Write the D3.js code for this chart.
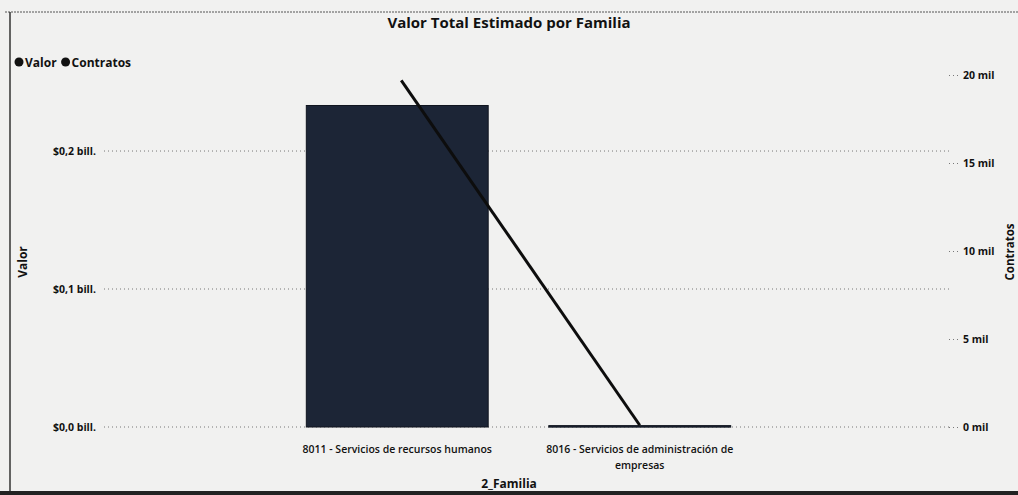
<!DOCTYPE html>
<html><head><meta charset="utf-8">
<script src="https://cdn.jsdelivr.net/npm/d3@7"></script>
<style>
html,body{margin:0;padding:0;background:#f1f1f0;}
svg{display:block;font-family:"Open Sans","DejaVu Sans",sans-serif;}
</style></head>
<body>
<svg id="c" width="1018" height="495"></svg>
<script>
const categories = ["8011 - Servicios de recursos humanos", "8016 - Servicios de administración de empresas"];
const valorBill = [0.233, 0.001];
const contratosMil = [19.7, 0.1];
const leftTicks = [0, 0.1, 0.2];
const rightTicks = [0, 5, 10, 15, 20];
const title = "Valor Total Estimado por Familia";
const legendItems = ["Valor", "Contratos"];

const svg = d3.select("#c");
const W = 1018, H = 495;
const plotTop = 75, plotBottom = 427;

const x = d3.scaleBand().domain(categories).range([276, 761]).paddingInner(0.25).paddingOuter(0.125);
const yL = d3.scaleLinear().domain([0, 0.2551]).range([plotBottom, plotTop]);
const yR = d3.scaleLinear().domain([0, 20]).range([plotBottom, plotTop]);

// frame
svg.append("line").attr("x1",5).attr("x2",W).attr("y1",12).attr("y2",12).attr("stroke","#555").attr("stroke-width",1).attr("stroke-dasharray","2,1");
svg.append("line").attr("x1",10).attr("x2",10).attr("y1",12).attr("y2",H).attr("stroke","#333").attr("stroke-width",1.5);
svg.append("line").attr("x1",0).attr("x2",W).attr("y1",493).attr("y2",493).attr("stroke","#222").attr("stroke-width",4);

// title
svg.append("text").attr("x",509).attr("y",28).attr("text-anchor","middle")
  .attr("font-size",15).attr("font-weight",700).attr("fill","#111").text(title);

// legend
let lx = 14;
legendItems.forEach((t,i)=>{
  svg.append("circle").attr("cx",lx+5).attr("cy",62).attr("r",4.5).attr("fill","#111");
  const tx = svg.append("text").attr("x",lx+11).attr("y",66.5).attr("font-size",12).attr("font-weight",700).attr("fill","#111").text(t);
  lx += 11 + tx.node().getComputedTextLength() + 4;
});

// gridlines (left axis)
svg.append("g").selectAll("line").data(leftTicks).join("line")
  .attr("x1",104).attr("x2",950).attr("y1",d=>yL(d)).attr("y2",d=>yL(d))
  .attr("stroke","#777").attr("stroke-width",1).attr("stroke-dasharray","1,3");

// left axis labels
const fmtL = d => "$" + d.toFixed(1).replace(".", ",") + " bill.";
const gL = svg.append("g").attr("transform","translate(96,0)")
  .call(d3.axisLeft(yL).tickValues(leftTicks).tickFormat(fmtL).tickSize(0).tickPadding(0));
gL.select(".domain").remove();
gL.selectAll("text").attr("font-size",10.5).attr("font-weight",700).attr("fill","#111").attr("font-family","Open Sans, sans-serif");

// right axis labels
const gR = svg.append("g").attr("transform","translate(955,0)")
  .call(d3.axisRight(yR).tickValues(rightTicks).tickFormat(d=>d+" mil").tickSize(0).tickPadding(8));
gR.select(".domain").remove();
gR.selectAll("text").attr("font-size",10.5).attr("font-weight",700).attr("fill","#111").attr("font-family","Open Sans, sans-serif");
gR.selectAll(".tick").append("line").attr("x1",-6).attr("x2",3).attr("stroke","#777").attr("stroke-dasharray","1,3");

// bars
svg.append("g").selectAll("rect").data(categories).join("rect")
  .attr("x",d=>x(d)).attr("width",x.bandwidth())
  .attr("y",(d,i)=>yL(valorBill[i])).attr("height",(d,i)=>Math.max(1.5, plotBottom - yL(valorBill[i])))
  .attr("fill","#1c2536").attr("stroke","#10151f").attr("stroke-width",1);

// line
const line = d3.line().x((d,i)=>x(categories[i]) + x.bandwidth()/2 + (i===0?4:0)).y(d=>yR(d));
svg.append("path").datum(contratosMil).attr("d",line).attr("fill","none").attr("stroke","#0d0d0d").attr("stroke-width",3);

// category labels
function wrap(text, maxW, fs){
  const words = text.split(" "); const lines=[]; let cur="";
  const tmp = svg.append("text").attr("font-size",fs).attr("font-weight",600);
  words.forEach(w=>{
    const t = cur ? cur+" "+w : w;
    tmp.text(t);
    if (tmp.node().getComputedTextLength() > maxW && cur){ lines.push(cur); cur=w; } else cur=t;
  });
  if(cur) lines.push(cur);
  tmp.remove();
  return lines;
}
categories.forEach(c=>{
  const lines = wrap(c, 215, 10.5);
  const t = svg.append("text").attr("text-anchor","middle").attr("font-size",10.5).attr("font-weight",600).attr("fill","#111");
  lines.forEach((l,j)=>t.append("tspan").attr("x",x(c)+x.bandwidth()/2).attr("y",453+j*16).text(l));
});

// axis titles
svg.append("text").attr("x",509).attr("y",488).attr("text-anchor","middle").attr("font-size",12).attr("font-weight",700).attr("fill","#111").text("2_Familia");
svg.append("text").attr("transform","translate(27,262) rotate(-90)").attr("text-anchor","middle").attr("font-size",12).attr("font-weight",700).attr("fill","#111").text("Valor");
svg.append("text").attr("transform","translate(1014,252) rotate(-90)").attr("text-anchor","middle").attr("font-size",11.5).attr("font-weight",700).attr("fill","#111").text("Contratos");
</script>
</body></html>
